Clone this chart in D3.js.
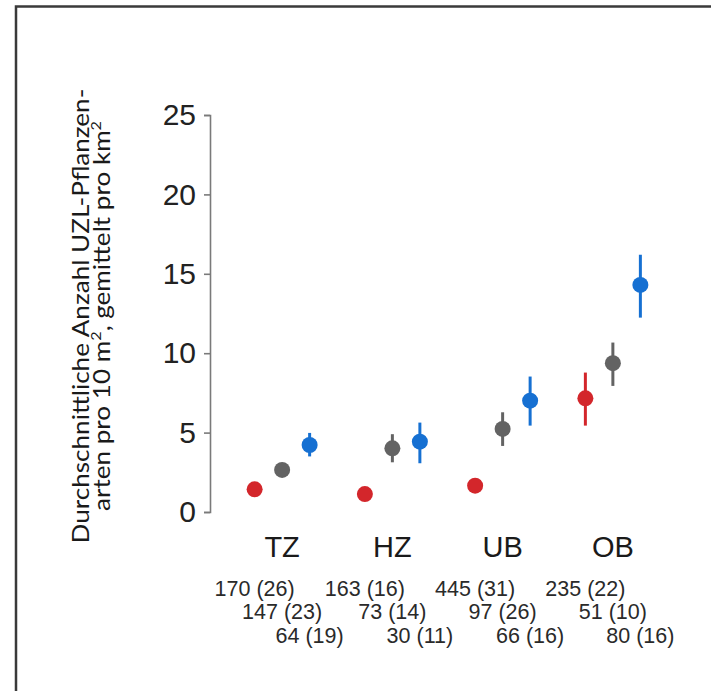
<!DOCTYPE html>
<html><head><meta charset="utf-8">
<script src="https://cdn.jsdelivr.net/npm/d3@7"></script>
<style>body{margin:0;background:#fff}svg{display:block}</style>
</head><body>
<svg id="chart" width="711" height="691"></svg>
<script>
const categories = ["TZ", "HZ", "UB", "OB"];
const seriesNames = ["rot", "grau", "blau"];
const seriesColors = ["#d3262b", "#636363", "#1670d2"];
// mean values per category, for each series
const means = [
  [1.43, 1.13, 1.66, 7.16],
  [2.65, 4.01, 5.23, 9.37],
  [4.22, 4.43, 7.01, 14.3]
];
const lows = [
  [1.43, 1.13, 1.66, 5.44],
  [2.65, 3.13, 4.16, 7.94],
  [3.5, 3.07, 5.44, 12.24]
];
const highs = [
  [1.43, 1.13, 1.66, 8.78],
  [2.65, 4.9, 6.28, 10.67],
  [4.98, 5.63, 8.53, 16.2]
];
const countLabels = [
  ["170 (26)", "163 (16)", "445 (31)", "235 (22)"],
  ["147 (23)", "73 (14)", "97 (26)", "51 (10)"],
  ["64 (19)", "30 (11)", "66 (16)", "80 (16)"]
];
const yTicks = [0, 5, 10, 15, 20, 25];

const svg = d3.select("#chart");
// frame
svg.append("rect").attr("x", 16).attr("y", 6.5).attr("width", 720).attr("height", 720)
  .attr("fill", "none").attr("stroke", "#3a3a3a").attr("stroke-width", 2.5);

const y = d3.scaleLinear().domain([0, 25]).range([512, 115]);
const x = d3.scaleBand().domain(categories).range([227, 668]).padding(0);
const xs = d3.scalePoint().domain(d3.range(3)).range([-27.5, 27.5]);
const cx = (ci, si) => x(categories[ci]) + x.bandwidth() / 2 + xs(si);

const yAxis = d3.axisLeft(y).tickValues(yTicks).tickSize(6).tickPadding(8).tickSizeOuter(6);
const ga = svg.append("g").attr("transform", "translate(210,0)").call(yAxis);
ga.select(".domain").attr("stroke", "#7a7a7a").attr("stroke-width", 1.6);
ga.selectAll(".tick line").attr("stroke", "#7a7a7a").attr("stroke-width", 1.6);
ga.selectAll(".tick text").attr("font-family", "Liberation Sans, Arial, sans-serif")
  .attr("font-size", 30).attr("fill", "#222");

// category labels
svg.append("g").selectAll("text").data(categories).join("text")
  .attr("x", d => x(d) + x.bandwidth() / 2).attr("y", 557)
  .attr("text-anchor", "middle").attr("font-family", "Liberation Sans, Arial, sans-serif")
  .attr("font-size", 29).attr("fill", "#1a1a1a").text(d => d);

// count labels
countLabels.forEach((row, si) => {
  svg.append("g").selectAll("text").data(row).join("text")
    .attr("x", (d, ci) => cx(ci, si)).attr("y", 595.5 + si * 23.5)
    .attr("text-anchor", "middle").attr("font-family", "Liberation Sans, Arial, sans-serif")
    .attr("font-size", 21.5).attr("fill", "#2a2a2a").text(d => d);
});

// error bars and points
means.forEach((vals, si) => {
  const g = svg.append("g");
  g.selectAll("line").data(vals).join("line")
    .attr("x1", (d, ci) => cx(ci, si)).attr("x2", (d, ci) => cx(ci, si))
    .attr("y1", (d, ci) => y(lows[si][ci])).attr("y2", (d, ci) => y(highs[si][ci]))
    .attr("stroke", seriesColors[si]).attr("stroke-width", 3);
  g.selectAll("circle").data(vals).join("circle")
    .attr("cx", (d, ci) => cx(ci, si)).attr("cy", d => y(d)).attr("r", 8)
    .attr("fill", seriesColors[si]);
});

// y title
const t = svg.append("text").attr("transform", "translate(0,316) rotate(-90) scale(1.16,1)")
  .attr("text-anchor", "middle").attr("font-family", "Lato, 'Open Sans', sans-serif")
  .attr("font-size", 22.5).attr("fill", "#1a1a1a");
t.append("tspan").attr("x", 0).attr("y", 89).text("Durchschnittliche Anzahl UZL-Pflanzen-");
const l2 = t.append("tspan").attr("x", 0).attr("y", 110);
l2.text("arten pro 10 m");
t.append("tspan").attr("dy", -9).attr("font-size", 14).text("2");
t.append("tspan").attr("dy", 9).text(", gemittelt pro km");
t.append("tspan").attr("dy", -9).attr("font-size", 14).text("2");
</script>
</body></html>
